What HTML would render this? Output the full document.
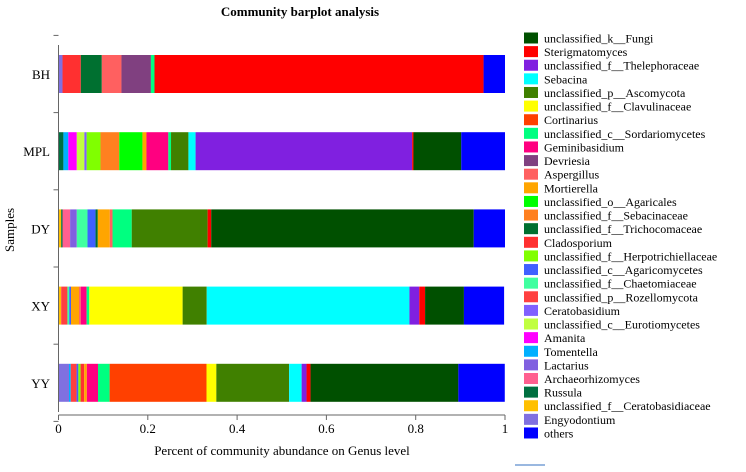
<!DOCTYPE html>
<html><head><meta charset="utf-8"><style>
body{margin:0;background:#fff;width:746px;height:467px;overflow:hidden}
svg text{font-family:"Liberation Serif",serif;fill:#000}
</style></head><body>
<svg id="chart" width="746" height="467"></svg>
<script>
const taxa=["unclassified_k__Fungi","Sterigmatomyces","unclassified_f__Thelephoraceae","Sebacina","unclassified_p__Ascomycota","unclassified_f__Clavulinaceae","Cortinarius","unclassified_c__Sordariomycetes","Geminibasidium","Devriesia","Aspergillus","Mortierella","unclassified_o__Agaricales","unclassified_f__Sebacinaceae","unclassified_f__Trichocomaceae","Cladosporium","unclassified_f__Herpotrichiellaceae","unclassified_c__Agaricomycetes","unclassified_f__Chaetomiaceae","unclassified_p__Rozellomycota","Ceratobasidium","unclassified_c__Eurotiomycetes","Amanita","Tomentella","Lactarius","Archaeorhizomyces","Russula","unclassified_f__Ceratobasidiaceae","Engyodontium","others"];
const colors=["#005000","#ff0000","#8020e0","#00ffff","#408000","#ffff00","#ff4000","#00ff80","#ff0080","#804080","#ff6060","#ffa500","#00ff00","#ff8020","#007030","#ff3030","#80ff00","#4060ff","#40ffa0","#ff4040","#8060ff","#c0ff40","#ff00ff","#00b0ff","#8060e0","#ff6090","#007040","#ffc000","#8070e0","#0000ff"];
const samples=["BH","MPL","DY","XY","YY"];
const valsBH=[0,0.737,0,0,0,0,0,0.008,0,0.066,0.044,0,0,0,0.047,0.041,0,0,0,0,0,0,0,0,0,0,0,0,0.009,0.048];
const valsMPL=[0.107,0.003,0.485,0.016,0.039,0,0,0.006,0.049,0,0,0.009,0.052,0.042,0,0,0.031,0,0,0,0.005,0.017,0.019,0.011,0,0,0.011,0,0,0.098];
const valsDY=[0.588,0.008,0,0,0.170,0,0,0.043,0,0,0.006,0.027,0,0,0.005,0,0,0.018,0.024,0,0,0,0,0,0.015,0.017,0.003,0.006,0,0.070];
const valsXY=[0.087,0.013,0.022,0.454,0.054,0.209,0,0.006,0.013,0,0.004,0.018,0,0,0,0,0,0.004,0.004,0.014,0,0,0,0,0,0,0,0.006,0,0.090];
const valsYY=[0.331,0.009,0.011,0.028,0.163,0.022,0.217,0.026,0.025,0,0,0.006,0,0,0,0.008,0.005,0.004,0,0.013,0,0,0,0.004,0,0,0,0,0.0235,0.104];
const seriesVals=[valsBH,valsMPL,valsDY,valsXY,valsYY];
const xTicks=[0,0.2,0.4,0.6,0.8,1];
const xTickLabels=["0","0.2","0.4","0.6","0.8","1"];

const NS="http://www.w3.org/2000/svg";
const svg=document.getElementById('chart');
function mk(t,a,p){const e=document.createElementNS(NS,t);for(const k in a)e.setAttribute(k,a[k]);(p||svg).appendChild(e);return e;}
const X0=58.5,X1=505,Y0=45,Y1=412;
const xs=v=>X0+v*(X1-X0);
const yc=i=>74+i*77.2;
const BH=38;

let t=mk('text',{x:300,y:16,'text-anchor':'middle','font-size':13,'font-weight':'bold'});t.textContent="Community barplot analysis";



// bars: draw order = legend reversed (except others last)
const order=[];for(let k=28;k>=0;k--)order.push(k);order.push(29);
samples.forEach((s,i)=>{
  const g=mk('g',{});
  
  
  let acc=0;const v=seriesVals[i];
  order.forEach(k=>{
    if(!v[k])return;
    const r=mk('rect',{x:xs(acc),y:yc(i)-BH/2,width:xs(acc+v[k])-xs(acc),height:BH,fill:colors[k]},g);
    
    
    acc+=v[k];
  });
  const l=mk('text',{x:50,y:yc(i)+5,'text-anchor':'end','font-size':13});l.textContent=s;
  
  
});
// axes
const ya=mk('line',{x1:X0,y1:Y0,x2:X0,y2:Y1,stroke:'#666','stroke-width':1});


[0,1,2,3,4,5].forEach(j=>{const yy=yc(0)-38.6+j*77.2;mk('line',{x1:X0-5,y1:yy,x2:X0,y2:yy,stroke:'#666'});});
const xa=mk('line',{x1:X0,y1:Y1+3,x2:X1,y2:Y1+3,stroke:'#666','stroke-width':1});


xTicks.forEach((v,j)=>{
  mk('line',{x1:xs(v),y1:Y1+3,x2:xs(v),y2:Y1+8,stroke:'#666'});
  const tl=mk('text',{x:xs(v),y:Y1+21,'text-anchor':'middle','font-size':13});tl.textContent=xTickLabels[j];
  
  
});
t=mk('text',{x:282,y:455,'text-anchor':'middle','font-size':13});t.textContent="Percent of community abundance on Genus level";


t=mk('text',{x:14,y:230,'text-anchor':'middle','font-size':13,transform:'rotate(-90 14 230)'});t.textContent="Samples";


// legend
taxa.forEach((n,k)=>{
  const y=38+k*13.62;
  const g=mk('g',{});
  
  
  mk('rect',{x:524,y:y-5.5,width:14,height:11,fill:colors[k]},g);
  const tx=mk('text',{x:544,y:y+4.5,'font-size':12},g);tx.textContent=n;
});
mk('line',{x1:515,y1:465,x2:545,y2:465,stroke:'#9ab8e0','stroke-width':2});
</script>
</body></html>
